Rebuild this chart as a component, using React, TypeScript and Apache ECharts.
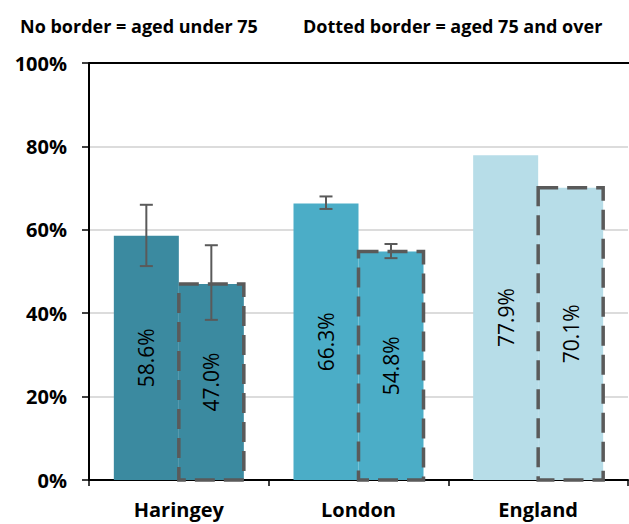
import React, { useEffect, useRef } from "react";
import * as echarts from "echarts";

const categories = ["Haringey", "London", "England"];
const under75 = [58.6, 66.3, 77.9];
const over75 = [47.0, 54.8, 70.1];
const under75Err: (number[] | null)[] = [[51.3, 66.0], [65.0, 68.0], null];
const over75Err: (number[] | null)[] = [[38.4, 56.3], [53.2, 56.6], null];
const barColors = ["#3b8aa0", "#4badc7", "#b7dde8"];
const yTicks = [0, 20, 40, 60, 80, 100];

const FONT = "'Open Sans', 'Liberation Sans', sans-serif";
const BAR_W = 65;

function errSeries(name: string, errs: (number[] | null)[], side: number) {
  const data = errs
    .map((e, i) => (e ? [i, e[0], e[1]] : null))
    .filter((d) => d !== null);
  return {
    type: "custom",
    name,
    data,
    z: 10,
    renderItem: (params: any, api: any) => {
      const xi = api.value(0);
      const lo = api.coord([xi, api.value(1)]);
      const hi = api.coord([xi, api.value(2)]);
      const x = lo[0] + side * (BAR_W / 2);
      const cap = 6.5;
      const style = { stroke: "#5a5a5a", lineWidth: 2, fill: "none" };
      return {
        type: "group",
        children: [
          { type: "line", shape: { x1: x, y1: lo[1], x2: x, y2: hi[1] }, style },
          { type: "line", shape: { x1: x - cap, y1: lo[1], x2: x + cap, y2: lo[1] }, style },
          { type: "line", shape: { x1: x - cap, y1: hi[1], x2: x + cap, y2: hi[1] }, style },
        ],
      };
    },
  };
}

function outlineSeries(values: number[]) {
  return {
    type: "custom",
    name: "outline",
    data: values.map((v, i) => [i, v]),
    z: 8,
    renderItem: (params: any, api: any) => {
      const xi = api.value(0);
      const top = api.coord([xi, api.value(1)]);
      const base = api.coord([xi, 0]);
      const x0 = top[0];
      return {
        type: "rect",
        shape: { x: x0, y: top[1], width: BAR_W, height: base[1] - top[1] },
        style: {
          fill: "none",
          stroke: "#5a5a5a",
          lineWidth: 3.5,
          lineDash: [20, 9],
        },
      };
    },
  };
}

export default function App() {
  const ref = useRef<HTMLDivElement>(null);
  useEffect(() => {
    if (!ref.current) return;
    const chart = echarts.init(ref.current, null, { renderer: "svg" });
    const label = {
      show: true,
      position: "inside",
      rotate: 90,
      formatter: (p: any) => p.value.toFixed(1) + "%",
      color: "#000",
      fontSize: 21,
      fontFamily: FONT,
    };
    const titleStyle = { fontSize: 18, fontWeight: "bold", color: "#000", fontFamily: FONT };
    chart.setOption({
      animation: false,
      textStyle: { fontFamily: FONT },
      title: [
        { text: "No border = aged under 75", left: 15, top: 12, textStyle: titleStyle },
        { text: "Dotted border = aged 75 and over", left: 298, top: 12, textStyle: titleStyle },
      ],
      grid: { left: 89, right: 1, top: 63, bottom: 44, containLabel: false },
      xAxis: {
        type: "category",
        data: categories,
        axisLine: { lineStyle: { color: "#000", width: 2 } },
        axisTick: { show: true, length: 6, lineStyle: { color: "#000", width: 1.5 } },
        axisLabel: {
          color: "#000",
          fontSize: 20,
          fontWeight: "bold",
          margin: 19,
          fontFamily: FONT,
        },
      },
      yAxis: {
        type: "value",
        min: yTicks[0],
        max: yTicks[yTicks.length - 1],
        interval: 20,
        axisLine: { show: true, lineStyle: { color: "#000", width: 2 } },
        axisTick: { show: true, length: 7, lineStyle: { color: "#000", width: 1.5 } },
        axisLabel: {
          formatter: "{value}%",
          color: "#000",
          fontSize: 20,
          fontWeight: "bold",
          margin: 22,
          fontFamily: FONT,
        },
        splitLine: { show: true, lineStyle: { color: "#d0d0d0", width: 1.5 } },
      },
      series: [
        {
          type: "bar",
          name: "Under 75",
          barWidth: BAR_W,
          barGap: "0%",
          data: under75.map((v, i) => ({ value: v, itemStyle: { color: barColors[i] } })),
          label,
        },
        {
          type: "bar",
          name: "75 and over",
          barWidth: BAR_W,
          barGap: "0%",
          data: over75.map((v, i) => ({ value: v, itemStyle: { color: barColors[i] } })),
          label,
        },
        outlineSeries(over75),
        errSeries("err1", under75Err, -1),
        errSeries("err2", over75Err, 1),
      ],
      graphic: [
        {
          type: "line",
          shape: { x1: 89, y1: 63, x2: 629, y2: 63 },
          style: { stroke: "#000", lineWidth: 2 },
          z: 5,
        },
      ],
    });
    return () => chart.dispose();
  }, []);
  return <div ref={ref} style={{ width: 629, height: 524, position: "absolute", left: 0, top: 0 }} />;
}
